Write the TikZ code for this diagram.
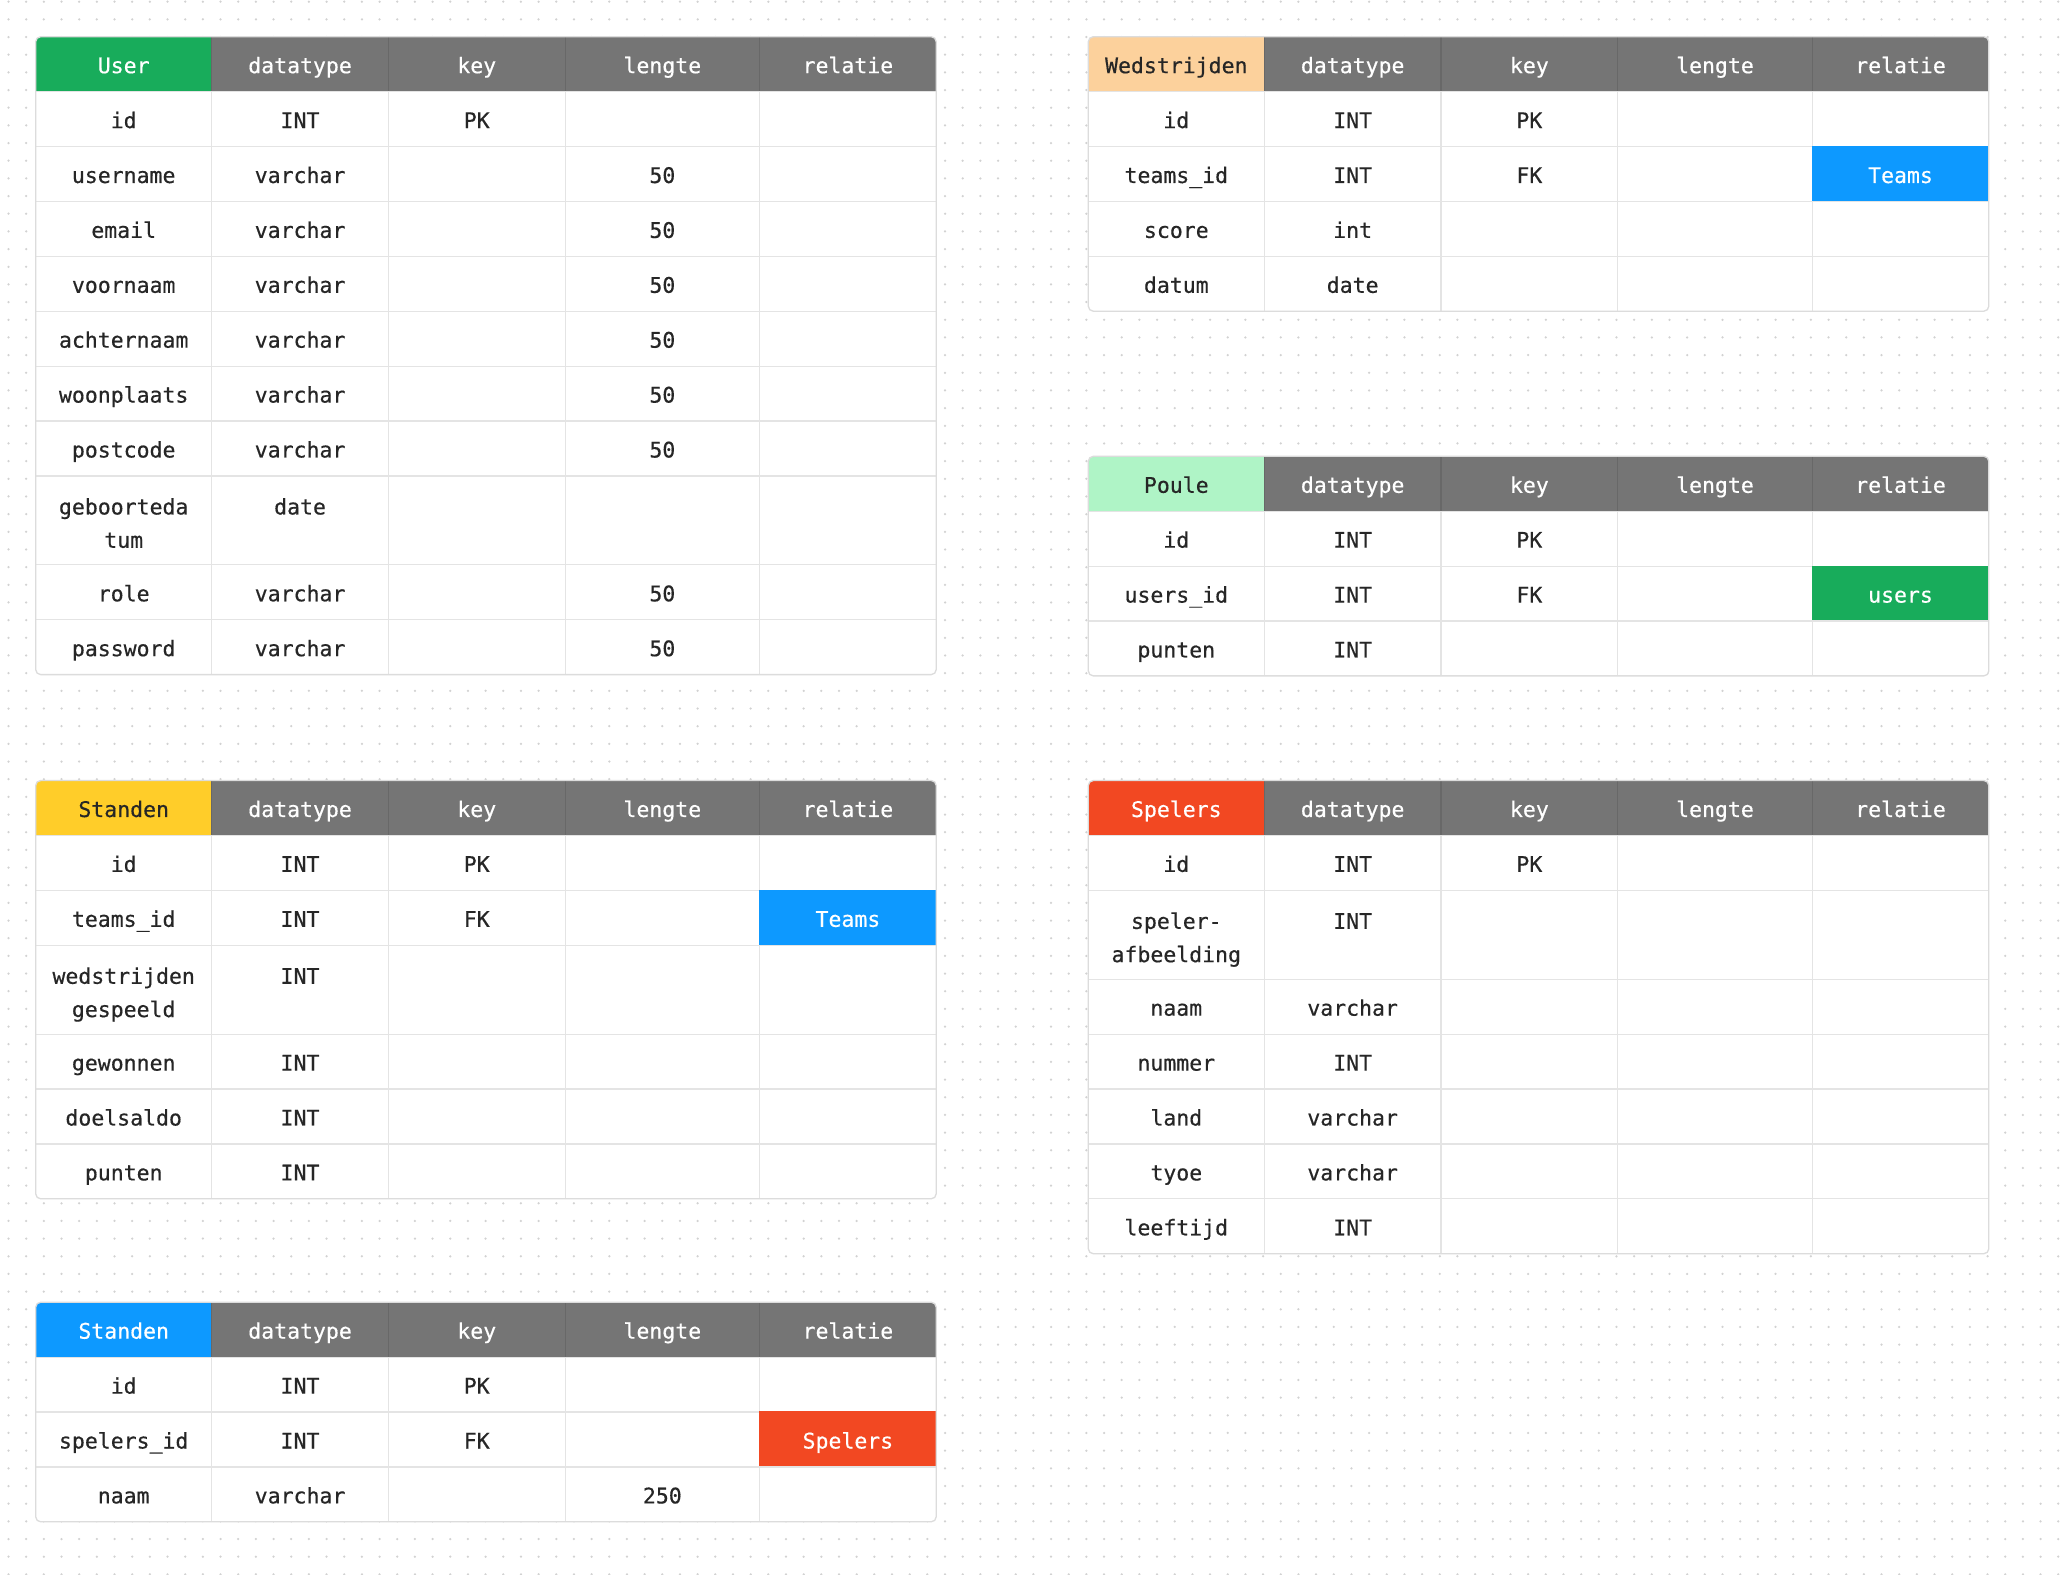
\documentclass[tikz,border=0pt]{standalone}
\usepackage{fontspec}
\newfontfamily\tfont[FakeBold=0.45]{DejaVu Sans Mono}
\definecolor{hgray}{HTML}{757575}
\definecolor{hsep}{HTML}{686868}
\definecolor{gridc}{HTML}{E4E4E4}
\definecolor{borderc}{HTML}{DCDCDC}
\definecolor{txtc}{HTML}{262626}
\definecolor{dotc}{HTML}{D2D2D2}
\definecolor{tgreen}{HTML}{18AC5B}
\definecolor{torange}{HTML}{FCD19C}
\definecolor{tmint}{HTML}{AFF4C6}
\definecolor{tyellow}{HTML}{FFCD29}
\definecolor{tred}{HTML}{F24822}
\definecolor{tblue}{HTML}{0D99FF}
\newcommand\ks{\rule[-0.24em]{0pt}{1.32em}}
\newcommand\kt{\rule{0pt}{1.35em}}
\newcommand\kb{\rule[-0.35em]{0pt}{1em}}
\def\wA{176}\def\wB{176.7}\def\wC{176.7}\def\wD{194.5}\def\wE{176.6}
\def\oB{176}\def\oC{352.7}\def\oD{529.4}\def\oE{723.9}
\def\rh{54.9}\def\dh{88.9}
\tikzset{
  cellbase/.style={rectangle, anchor=north west, inner sep=0pt, outer sep=0pt,
    align=center, line width=1.2pt,
    font=\tfont\fontsize{21.5}{33.3}\selectfont, execute at begin node=\ks},
  hcell/.style={cellbase, minimum height=\rh, fill=hgray, draw=hsep, text=white},
  bcell/.style={cellbase, fill=white, draw=gridc, text=txtc},
  relcell/.style={fill=#1, draw=#1, text=white},
  tborder/.style={draw=borderc, line width=1.3pt, rounded corners=5pt},
  dotrow/.style={draw=dotc, line width=2.5pt, line cap=round, dash pattern=on 0pt off 17.67pt},
}
\newcommand{\thead}[4]{%
  \node[hcell, minimum width=\wA, fill=#3, draw=#3, text=#4] (#1-h1) at (\tx,\cy) {#2};
  \node[hcell, minimum width=\wB] (#1-h2) at (\tx+\oB,\cy) {datatype};
  \node[hcell, minimum width=\wC] (#1-h3) at (\tx+\oC,\cy) {key};
  \node[hcell, minimum width=\wD] (#1-h4) at (\tx+\oD,\cy) {lengte};
  \node[hcell, minimum width=\wE] (#1-h5) at (\tx+\oE,\cy) {relatie};
  \pgfmathsetmacro\tmpy{\cy+\rh}\xdef\cy{\tmpy}}
\newcommand{\trow}[8]{%
  \node[bcell, minimum width=\wA, minimum height=#2] (#1-1) at (\tx,\cy) {#3};
  \node[bcell, minimum width=\wB, minimum height=#2] (#1-2) at (\tx+\oB,\cy) {#4};
  \node[bcell, minimum width=\wC, minimum height=#2] (#1-3) at (\tx+\oC,\cy) {#5};
  \node[bcell, minimum width=\wD, minimum height=#2] (#1-4) at (\tx+\oD,\cy) {#6};
  \node[bcell, minimum width=\wE, minimum height=#2, #7] (#1-5) at (\tx+\oE,\cy) {#8};
  \pgfmathsetmacro\tmpy{\cy+#2}\xdef\cy{\tmpy}}
\begin{document}
\begin{tikzpicture}[x=1pt,y=-1pt]
\useasboundingbox (0,0) rectangle (2068,1574);
\fill[white] (0,0) rectangle (2068,1574);
\foreach \k in {0,...,89} {
  \draw[dotrow] (8.5,1.7+17.67*\k) -- (2068,1.7+17.67*\k);
}

% ---------- User ----------
\xdef\tx{35.7}\xdef\cy{36.7}
\begin{scope}
\clip[rounded corners=5pt] (\tx,\cy) rectangle ++(900.5,637.9);
\thead{user}{User}{tgreen}{white}
\trow{user-r1}{\rh}{id}{INT}{PK}{}{}{}
\trow{user-r2}{\rh}{username}{varchar}{}{50}{}{}
\trow{user-r3}{\rh}{email}{varchar}{}{50}{}{}
\trow{user-r4}{\rh}{voornaam}{varchar}{}{50}{}{}
\trow{user-r5}{\rh}{achternaam}{varchar}{}{50}{}{}
\trow{user-r6}{\rh}{woonplaats}{varchar}{}{50}{}{}
\trow{user-r7}{\rh}{postcode}{varchar}{}{50}{}{}
\trow{user-r8}{\dh}{\kt geboorteda\\tum\kb}{\kt date\\\kb}{}{}{}{}
\trow{user-r9}{\rh}{role}{varchar}{}{50}{}{}
\trow{user-r10}{\rh}{password}{varchar}{}{50}{}{}
\end{scope}
\draw[tborder] (35.7,36.7) rectangle ++(900.5,637.9);

% ---------- Wedstrijden ----------
\xdef\tx{1088.3}\xdef\cy{36.7}
\begin{scope}
\clip[rounded corners=5pt] (\tx,\cy) rectangle ++(900.5,274.5);
\thead{wed}{Wedstrijden}{torange}{txtc}
\trow{wed-r1}{\rh}{id}{INT}{PK}{}{}{}
\trow{wed-r2}{\rh}{teams\_id}{INT}{FK}{}{relcell=tblue}{Teams}
\trow{wed-r3}{\rh}{score}{int}{}{}{}{}
\trow{wed-r4}{\rh}{datum}{date}{}{}{}{}
\end{scope}
\draw[tborder] (1088.3,36.7) rectangle ++(900.5,274.5);

% ---------- Poule ----------
\xdef\tx{1088.3}\xdef\cy{456.3}
\begin{scope}
\clip[rounded corners=5pt] (\tx,\cy) rectangle ++(900.5,219.6);
\thead{poule}{Poule}{tmint}{txtc}
\trow{poule-r1}{\rh}{id}{INT}{PK}{}{}{}
\trow{poule-r2}{\rh}{users\_id}{INT}{FK}{}{relcell=tgreen}{users}
\trow{poule-r3}{\rh}{punten}{INT}{}{}{}{}
\end{scope}
\draw[tborder] (1088.3,456.3) rectangle ++(900.5,219.6);

% ---------- Standen (yellow) ----------
\xdef\tx{35.7}\xdef\cy{780.5}
\begin{scope}
\clip[rounded corners=5pt] (\tx,\cy) rectangle ++(900.5,418.3);
\thead{stand}{Standen}{tyellow}{txtc}
\trow{stand-r1}{\rh}{id}{INT}{PK}{}{}{}
\trow{stand-r2}{\rh}{teams\_id}{INT}{FK}{}{relcell=tblue}{Teams}
\trow{stand-r3}{\dh}{\kt wedstrijden\\gespeeld\kb}{\kt INT\\\kb}{}{}{}{}
\trow{stand-r4}{\rh}{gewonnen}{INT}{}{}{}{}
\trow{stand-r5}{\rh}{doelsaldo}{INT}{}{}{}{}
\trow{stand-r6}{\rh}{punten}{INT}{}{}{}{}
\end{scope}
\draw[tborder] (35.7,780.5) rectangle ++(900.5,418.3);

% ---------- Spelers ----------
\xdef\tx{1088.3}\xdef\cy{780.5}
\begin{scope}
\clip[rounded corners=5pt] (\tx,\cy) rectangle ++(900.5,473.2);
\thead{spel}{Spelers}{tred}{white}
\trow{spel-r1}{\rh}{id}{INT}{PK}{}{}{}
\trow{spel-r2}{\dh}{\kt speler-\\afbeelding\kb}{\kt INT\\\kb}{}{}{}{}
\trow{spel-r3}{\rh}{naam}{varchar}{}{}{}{}
\trow{spel-r4}{\rh}{nummer}{INT}{}{}{}{}
\trow{spel-r5}{\rh}{land}{varchar}{}{}{}{}
\trow{spel-r6}{\rh}{tyoe}{varchar}{}{}{}{}
\trow{spel-r7}{\rh}{leeftijd}{INT}{}{}{}{}
\end{scope}
\draw[tborder] (1088.3,780.5) rectangle ++(900.5,473.2);

% ---------- Standen (blue) ----------
\xdef\tx{35.7}\xdef\cy{1302.2}
\begin{scope}
\clip[rounded corners=5pt] (\tx,\cy) rectangle ++(900.5,219.6);
\thead{standb}{Standen}{tblue}{white}
\trow{standb-r1}{\rh}{id}{INT}{PK}{}{}{}
\trow{standb-r2}{\rh}{spelers\_id}{INT}{FK}{}{relcell=tred}{Spelers}
\trow{standb-r3}{\rh}{naam}{varchar}{}{250}{}{}
\end{scope}
\draw[tborder] (35.7,1302.2) rectangle ++(900.5,219.6);
\end{tikzpicture}
\end{document}
